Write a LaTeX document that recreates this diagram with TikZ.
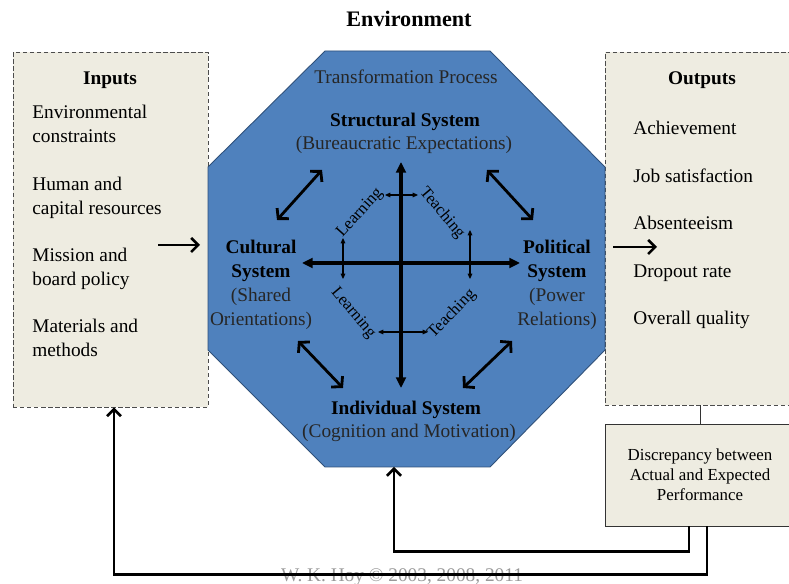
\documentclass[tikz,border=0pt]{standalone}
\usepackage{fontspec}
\setmainfont{Liberation Serif}
\usetikzlibrary{arrows.meta}
\definecolor{octblue}{HTML}{4F81BD}
\definecolor{octline}{HTML}{2F5079}
\definecolor{boxtan}{HTML}{EEECE1}
\begin{document}
\begin{tikzpicture}[x=0.02cm, y=-0.02cm,
  every node/.style = {inner sep=0pt, font=\fontsize{11}{13.6}\selectfont},
  bold/.style = {font=\fontsize{11}{13.6}\selectfont\bfseries},
  small/.style = {font=\fontsize{9.5}{11}\selectfont},
  dashbox/.style = {draw=black!70, dash pattern=on 2.5pt off 1.5pt,
    fill=boxtan, minimum width=3.9cm},
  discbox/.style = {draw=black!80, fill=boxtan, align=center,
    minimum width=3.8cm, minimum height=2.04cm,
    font=\fontsize{9.6}{11.3}\selectfont},
  crossarrow/.style = {{Triangle[length=6pt,width=5.5pt]}-{Triangle[length=6pt,width=5.5pt]}, line width=1.9pt},
  diagarrow/.style = {{Straight Barb[length=4pt,width=9pt]}-{Straight Barb[length=4pt,width=9pt]}, line width=1.6pt},
  smallarrow/.style = {{Triangle[length=3pt,width=2.6pt]}-{Triangle[length=3pt,width=2.6pt]}, line width=0.6pt},
  flowarrow/.style = {-{Straight Barb[length=4pt,width=8pt]}, line width=1.5pt}]
  \useasboundingbox (0,0) rectangle (789,584);
  \fill[white] (0,0) rectangle (789,584);
  \node[font=\fontsize{12.6}{15}\selectfont\bfseries, anchor=base] (env) at (409,27) {Environment};

  \node[dashbox, minimum height=7.1cm] (inputs) at (110.5,229.5) {};
  \node[bold, anchor=base] (intitle) at (110,85) {Inputs};
  \node[align=left, anchor=north west] (in1) at (32,105) {Environmental\\constraints};
  \node[align=left, anchor=north west] (in2) at (32,177) {Human and\\capital resources};
  \node[align=left, anchor=north west] (in3) at (32,248) {Mission and\\board policy};
  \node[align=left, anchor=north west] (in4) at (32,319) {Materials and\\methods};

  \node[dashbox, minimum height=7.06cm] (outputs) at (702.5,228.5) {};
  \node[bold, anchor=base] (outtitle) at (702,85) {Outputs};
  \foreach \t [count=\i] in {Achievement, Job satisfaction, Absenteeism, Dropout rate, Overall quality}
    \node[anchor=base west] (out\i) at (633,87.5+47.5*\i) {\t};

  \draw[octline, fill=octblue, line width=0.5pt] (325,51) -- (490,51) -- (605,167) -- (605,350)
    -- (490,467) -- (325,467) -- (208,350) -- (208,167) -- cycle;
  \coordinate (octS) at (394,467);

  \node[anchor=base, text=black!85] (trans) at (406,84) {Transformation Process};
  \node[bold, anchor=base] (struct) at (405,127) {Structural System};
  \node[anchor=base, text=black!85] (structsub) at (404,150) {(Bureaucratic Expectations)};
  \node[bold, align=center, anchor=north] (cult) at (261,240) {Cultural\\System};
  \node[align=center, anchor=north, text=black!85] (cultsub) at (261,287.5) {(Shared\\Orientations)};
  \node[bold, align=center, anchor=north] (pol) at (557,240) {Political\\System};
  \node[align=center, anchor=north, text=black!85] (polsub) at (557,287.5) {(Power\\Relations)};
  \node[bold, anchor=base] (indiv) at (406,415) {Individual System};
  \node[anchor=base, text=black!85] (indivsub) at (409,438) {(Cognition and Motivation)};

  \node[small, rotate=48] (learn1) at (360,213) {Learning};
  \node[small, rotate=-50] (teach1) at (442,213) {Teaching};
  \node[small, rotate=-50] (learn2) at (353,313) {Learning};
  \node[small, rotate=46] (teach2) at (452,314) {Teaching};

  \coordinate (ul1) at (277,220); \coordinate (ul2) at (322,170);
  \coordinate (ur1) at (487,170); \coordinate (ur2) at (533,220);
  \coordinate (ll1) at (298,341); \coordinate (ll2) at (343,388);
  \coordinate (lr1) at (512,341); \coordinate (lr2) at (463,388);
  \coordinate (vt) at (401,162); \coordinate (vb) at (401,388);
  \coordinate (hl) at (302,263); \coordinate (hr) at (520,263);
  \coordinate (st1) at (385,195); \coordinate (st2) at (418,195);
  \coordinate (sl1) at (343,238); \coordinate (sl2) at (343,279);
  \coordinate (sr1) at (470,230); \coordinate (sr2) at (470,279);
  \coordinate (sb1) at (378,332); \coordinate (sb2) at (428,332);
  \foreach \a/\b in {ul1/ul2, ur1/ur2, ll1/ll2, lr1/lr2}
    \draw[diagarrow] (\a) -- (\b);
  \draw[crossarrow] (vt) -- (vb);
  \draw[crossarrow] (hl) -- (hr);
  \foreach \a/\b in {st1/st2, sl1/sl2, sr1/sr2, sb1/sb2}
    \draw[smallarrow] (\a) -- (\b);

  \coordinate (inA) at (158,245); \coordinate (inB) at (200,245);
  \coordinate (outA) at (613,247); \coordinate (outB) at (657,247);
  \draw[flowarrow] (inA) -- (inB);
  \draw[flowarrow] (outA) -- (outB);

  \node[discbox] (disc) at (700,475) {Discrepancy between\\Actual and Expected\\Performance};
  \draw[black!80, line width=0.5pt] (disc.north) -- (disc.north |- outputs.south);

  \node[anchor=base, text=black!40] (copy) at (402,582) {W. K. Hoy © 2003, 2008, 2011};
  \draw[flowarrow] ([xshift=-0.22cm]disc.south) -- ++(0,25) -| (octS);
  \draw[flowarrow] ([xshift=0.14cm]disc.south) -- ++(0,48) -| ([xshift=0.07cm]inputs.south);
\end{tikzpicture}
\end{document}
